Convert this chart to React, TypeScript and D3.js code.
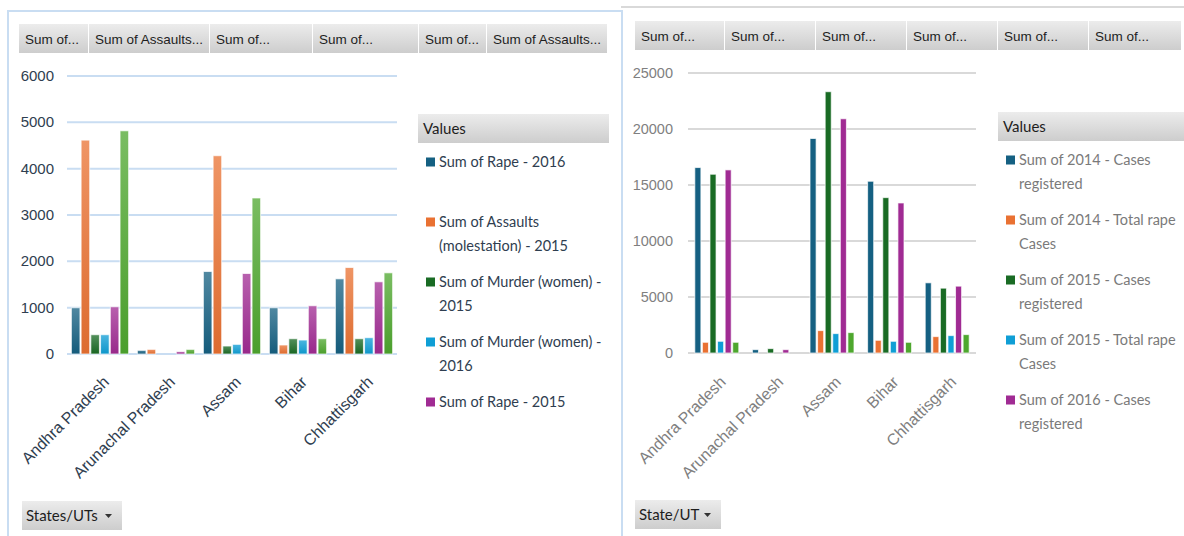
import * as d3 from "d3";

const categories = ["Andhra Pradesh", "Arunachal Pradesh", "Assam", "Bihar", "Chhattisgarh"];

// left pivot chart
const leftSeries = [
  "Sum of Rape - 2016",
  "Sum of Assaults (molestation) - 2015",
  "Sum of Murder (women) - 2015",
  "Sum of Murder (women) - 2016",
  "Sum of Rape - 2015",
  "Sum of Assaults (molestation) - 2016",
];
const rape2016 = [998, 79, 1780, 998, 1622];
const assaults2015 = [4616, 100, 4279, 194, 1866];
const murder2015 = [416, 0, 172, 330, 330];
const murder2016 = [416, 0, 208, 301, 352];
const rape2015 = [1019, 50, 1737, 1041, 1558];
const assaults2016 = [4817, 100, 3367, 330, 1752];
const leftTicks = [0, 1000, 2000, 3000, 4000, 5000, 6000];
const leftButtons = ["Sum of...", "Sum of Assaults...", "Sum of...", "Sum of...", "Sum of...", "Sum of Assaults..."];
const leftLegend = [
  ["Sum of Rape - 2016"],
  ["Sum of Assaults", "(molestation) - 2015"],
  ["Sum of Murder (women) -", "2015"],
  ["Sum of Murder (women) -", "2016"],
  ["Sum of Rape - 2015"],
];

// right pivot chart
const rightSeries = [
  "Sum of 2014 - Cases registered",
  "Sum of 2014 - Total rape Cases",
  "Sum of 2015 - Cases registered",
  "Sum of 2015 - Total rape Cases",
  "Sum of 2016 - Cases registered",
  "Sum of 2016 - Total rape Cases",
];
const cases2014 = [16557, 298, 19152, 15334, 6265];
const totalRape2014 = [955, 0, 1999, 1134, 1462];
const cases2015 = [15960, 388, 23329, 13872, 5788];
const totalRape2015 = [1044, 0, 1730, 1044, 1551];
const cases2016 = [16348, 298, 20913, 13395, 5967];
const totalRape2016 = [955, 0, 1820, 955, 1641];
const rightTicks = [0, 5000, 10000, 15000, 20000, 25000];
const rightButtons = ["Sum of...", "Sum of...", "Sum of...", "Sum of...", "Sum of...", "Sum of..."];
const rightLegend = [
  ["Sum of 2014 - Cases", "registered"],
  ["Sum of 2014 - Total rape", "Cases"],
  ["Sum of 2015 - Cases", "registered"],
  ["Sum of 2015 - Total rape", "Cases"],
  ["Sum of 2016 - Cases", "registered"],
];

const colors = ["#156082", "#E97132", "#196B24", "#0F9ED5", "#A02B93", "#4EA72E"];
const leftValues = [rape2016, assaults2015, murder2015, murder2016, rape2015, assaults2016];
const rightValues = [cases2014, totalRape2014, cases2015, totalRape2015, cases2016, totalRape2016];

const btnFont = "'Liberation Sans', Arial, sans-serif";
const legFont = "Lato, 'Noto Sans', sans-serif";

function FieldButtons({ labels, edges, y, h }: { labels: string[]; edges: number[]; y: number; h: number }) {
  return (
    <g>
      {labels.map((l, i) => (
        <g key={i}>
          <rect x={edges[i]} y={y} width={edges[i + 1] - edges[i] - 1} height={h} fill="url(#btnGrad)" />
          <text x={edges[i] + 6} y={y + h / 2 + 5} fontFamily={btnFont} fontSize={13.5} fill="#1e1e1e">
            {l}
          </text>
        </g>
      ))}
    </g>
  );
}

function Chart(props: {
  values: number[][];
  ticks: number[];
  xr: [number, number];
  yr: [number, number];
  gradient: boolean;
  padOuter: number;
  padInner: number;
  grid: string;
  textColor: string;
  tickFs: number;
  tickX: number;
}) {
  const { values, ticks, xr, yr, gradient, padOuter, padInner, grid, textColor, tickFs, tickX } = props;
  const x0 = d3.scaleBand<string>().domain(categories).range(xr).padding(0);
  const x1 = d3
    .scaleBand<number>()
    .domain(d3.range(values.length))
    .range([0, x0.bandwidth()])
    .paddingInner(padInner)
    .paddingOuter(padOuter);
  const y = d3.scaleLinear().domain([0, d3.max(ticks)!]).range(yr);
  return (
    <g>
      {ticks.map((t) => (
        <g key={t}>
          <line x1={xr[0]} x2={xr[1]} y1={y(t)} y2={y(t)} stroke={grid} strokeWidth={2} />
          <text x={tickX} y={y(t) + 5} textAnchor="end" fontFamily={btnFont} fontSize={tickFs} fill={textColor}>
            {t}
          </text>
        </g>
      ))}
      {categories.map((c, ci) => (
        <g key={c} transform={`translate(${x0(c)},0)`}>
          {values.map((s, si) =>
            s[ci] > 0 ? (
              <rect
                key={si}
                x={x1(si)}
                y={y(s[ci])}
                width={x1.bandwidth()}
                height={y(0) - y(s[ci])}
                fill={gradient ? `url(#g${si})` : colors[si]}
                stroke="#fff"
                strokeOpacity={0.7}
                strokeWidth={1}
              />
            ) : null
          )}
        </g>
      ))}
      {categories.map((c) => (
        <text
          key={c}
          transform={`translate(${x0(c)! + x0.bandwidth() / 2 + 10},383) rotate(-45)`}
          textAnchor="end"
          fontFamily={btnFont}
          fontSize={16}
          fill={textColor}
        >
          {c}
        </text>
      ))}
    </g>
  );
}

function Legend({ items, x, y, w, color }: { items: string[][]; x: number; y: number; w: number; color: string }) {
  return (
    <g>
      <rect x={x} y={y} width={w} height={29} fill="url(#btnGrad)" />
      <text x={x + 5} y={y + 20} fontFamily={legFont} fontSize={15} fill="#1e1e1e">
        Values
      </text>
      {items.map((lines, i) => (
        <g key={i} transform={`translate(${x + 8},${y + 48 + i * 60})`}>
          <rect x={0} y={-4.5} width={9} height={9} fill={colors[i]} />
          {lines.map((l, j) => (
            <text key={j} x={13} y={5 + j * 24} fontFamily={legFont} fontSize={14.5} fill={color}>
              {l}
            </text>
          ))}
        </g>
      ))}
    </g>
  );
}

function DropButton({ x, y, w, label }: { x: number; y: number; w: number; label: string }) {
  return (
    <g>
      <rect x={x} y={y} width={w} height={29} fill="url(#btnGrad)" />
      <text x={x + 4} y={y + 20} fontFamily={legFont} fontSize={15} fill="#1e1e1e">
        {label}
      </text>
      <path d={`M${x + w - 17},${y + 13} l7,0 l-3.5,4 z`} fill="#333" />
    </g>
  );
}

export default function App() {
  return (
    <svg width={1184} height={536} style={{ position: "absolute", left: 0, top: 0, background: "#fff" }}>
      <defs>
        <linearGradient id="btnGrad" x1="0" x2="0" y1="0" y2="1">
          <stop offset="0" stopColor="#ececec" />
          <stop offset="1" stopColor="#cdcdcd" />
        </linearGradient>
        {colors.map((c, i) => (
          <linearGradient key={i} id={`g${i}`} x1="0" x2="0" y1="0" y2="1">
            <stop offset="0" stopColor={d3.interpolateRgb(c, "#fff")(0.25)} />
            <stop offset="1" stopColor={d3.color(c)!.darker(0.15).formatHex()} />
          </linearGradient>
        ))}
      </defs>

      {/* panel frames */}
      <path d="M8,536 V11 H622 V536" fill="none" stroke="#c9ddf2" strokeWidth={2} />
      <line x1={621} x2={1184} y1={7} y2={7} stroke="#d9d9d9" strokeWidth={2} />

      <FieldButtons labels={leftButtons} edges={[19, 89, 210, 313, 419, 487, 608]} y={24} h={29} />
      <Chart
        values={leftValues}
        ticks={leftTicks}
        xr={[67, 397]}
        yr={[354, 76]}
        gradient={true}
        padOuter={0.45}
        padInner={0.12}
        grid="#c9ddf2"
        textColor="#2f3e50"
        tickFs={15}
        tickX={54}
      />
      <Legend items={leftLegend} x={418} y={114} w={191} color="#2f3e50" />
      <DropButton x={22} y={501} w={100} label="States/UTs" />

      <FieldButtons labels={rightButtons} edges={[635, 725, 816, 907, 998, 1089, 1182]} y={21} h={29} />
      <Chart
        values={rightValues}
        ticks={rightTicks}
        xr={[688, 976]}
        yr={[353, 73]}
        gradient={false}
        padOuter={0.9}
        padInner={0.2}
        grid="#d9d9d9"
        textColor="#7f7f7f"
        tickFs={14.5}
        tickX={673}
      />
      <Legend items={rightLegend} x={998} y={112} w={186} color="#7a7a7a" />
      <DropButton x={635} y={500} w={86} label="State/UT" />
    </svg>
  );
}
